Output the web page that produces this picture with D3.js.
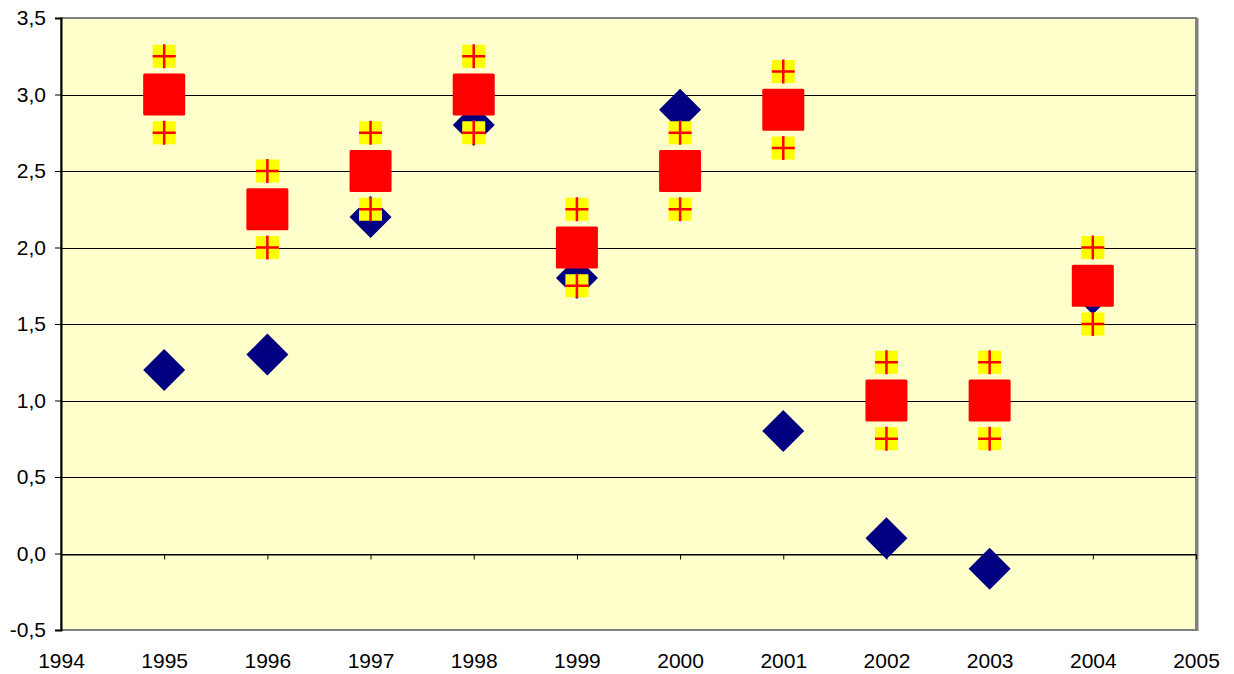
<!DOCTYPE html>
<html>
<head>
<meta charset="utf-8">
<script src="https://cdn.jsdelivr.net/npm/d3@7"></script>
<style>
  body { margin: 0; background: #fff; }
  text { font-family: "Liberation Sans", Arial, sans-serif; }
</style>
</head>
<body>
<div id="chart"></div>
<script>
// data
const years = [1995, 1996, 1997, 1998, 1999, 2000, 2001, 2002, 2003, 2004];
const actual = [1.2, 1.3, 2.2, 2.8, 1.8, 2.9, 0.8, 0.1, -0.1, 1.7];
const target = [3.0, 2.25, 2.5, 3.0, 2.0, 2.5, 2.9, 1.0, 1.0, 1.75];
const upper = [3.25, 2.5, 2.75, 3.25, 2.25, 2.75, 3.15, 1.25, 1.25, 2.0];
const lower = [2.75, 2.0, 2.25, 2.75, 1.75, 2.25, 2.65, 0.75, 0.75, 1.5];
const yTicks = [-0.5, 0, 0.5, 1, 1.5, 2, 2.5, 3, 3.5];
const xTicks = d3.range(1994, 2006);

const width = 1234, height = 674;
const margin = {top: 18, right: 38, bottom: 44, left: 61};

const svg = d3.select('#chart').append('svg')
  .attr('width', width)
  .attr('height', height);

const x = d3.scaleLinear().domain([1994, 2005]).range([margin.left, width - margin.right]);
const y = d3.scaleLinear().domain([-0.5, 3.5]).range([height - margin.bottom, margin.top]);

// comma decimals, plain hyphen for minus
const fmt = d => d3.format('.1f')(d).replace('.', ',').replace('\u2212', '-');

// plot background + shadow border
svg.append('rect')
  .attr('x', x(1994)).attr('y', y(3.5))
  .attr('width', x(2005) - x(1994)).attr('height', y(-0.5) - y(3.5))
  .attr('fill', '#ffffcc')
  .attr('stroke', '#808080').attr('stroke-width', 2);
svg.append('line')
  .attr('x1', x(2005) + 1.5).attr('x2', x(2005) + 1.5)
  .attr('y1', y(3.5)).attr('y2', y(-0.5) + 1)
  .attr('stroke', '#808080').attr('stroke-width', 2);

// gridlines
svg.append('g')
  .selectAll('line')
  .data(yTicks.filter(d => d > -0.5 && d < 3.5))
  .join('line')
  .attr('x1', x(1994)).attr('x2', x(2005))
  .attr('y1', d => Math.round(y(d)) + 0.5).attr('y2', d => Math.round(y(d)) + 0.5)
  .attr('stroke', '#000').attr('stroke-width', 1);

// y axis
const yAxis = svg.append('g')
  .attr('transform', `translate(${x(1994)},0)`)
  .call(d3.axisLeft(y).tickValues(yTicks).tickFormat(fmt).tickSize(6).tickPadding(9));
yAxis.select('.domain').attr('stroke', '#000').attr('stroke-width', 2);
yAxis.selectAll('.tick line').attr('stroke', '#000');
yAxis.selectAll('text').attr('font-size', 21).attr('fill', '#000');

// x axis at zero
const y0 = Math.round(y(0)) + 0.5;
const xAxis = svg.append('g')
  .attr('transform', `translate(0,${y0})`)
  .call(d3.axisBottom(x).tickValues(xTicks).tickFormat(d3.format('d')).tickSize(5).tickSizeOuter(0));
xAxis.select('.domain').attr('stroke', '#000');
xAxis.selectAll('.tick line').attr('stroke', '#000');
xAxis.selectAll('text')
  .attr('font-size', 21).attr('fill', '#000')
  .attr('y', 668 - y0).attr('dy', 0);

// blue diamonds
const ds = 21;
svg.append('g')
  .selectAll('path')
  .data(years.map((yr, i) => [yr, actual[i]]))
  .join('path')
  .attr('transform', d => `translate(${x(d[0])},${y(d[1])})`)
  .attr('d', `M0,${-ds}L${ds},0L0,${ds}L${-ds},0Z`)
  .attr('fill', '#000080');

// red squares
const rs = 21;
svg.append('g')
  .selectAll('rect')
  .data(years.map((yr, i) => [yr, target[i]]))
  .join('rect')
  .attr('x', d => x(d[0]) - rs).attr('y', d => y(d[1]) - rs)
  .attr('width', rs * 2).attr('height', rs * 2)
  .attr('rx', 1.5)
  .attr('fill', '#ff0000');

// yellow band markers with red plus
const band = [];
years.forEach((yr, i) => { band.push([yr, upper[i]]); band.push([yr, lower[i]]); });
const bm = svg.append('g')
  .selectAll('g')
  .data(band)
  .join('g')
  .attr('transform', d => `translate(${x(d[0])},${y(d[1])})`);
bm.append('rect')
  .attr('x', -11.5).attr('y', -11.5).attr('width', 23).attr('height', 23)
  .attr('fill', '#ffff00');
bm.append('path')
  .attr('d', 'M-11.5,0H11.5M0,-12V12')
  .attr('stroke', '#ff0000').attr('stroke-width', 2.5);
</script>
</body>
</html>
